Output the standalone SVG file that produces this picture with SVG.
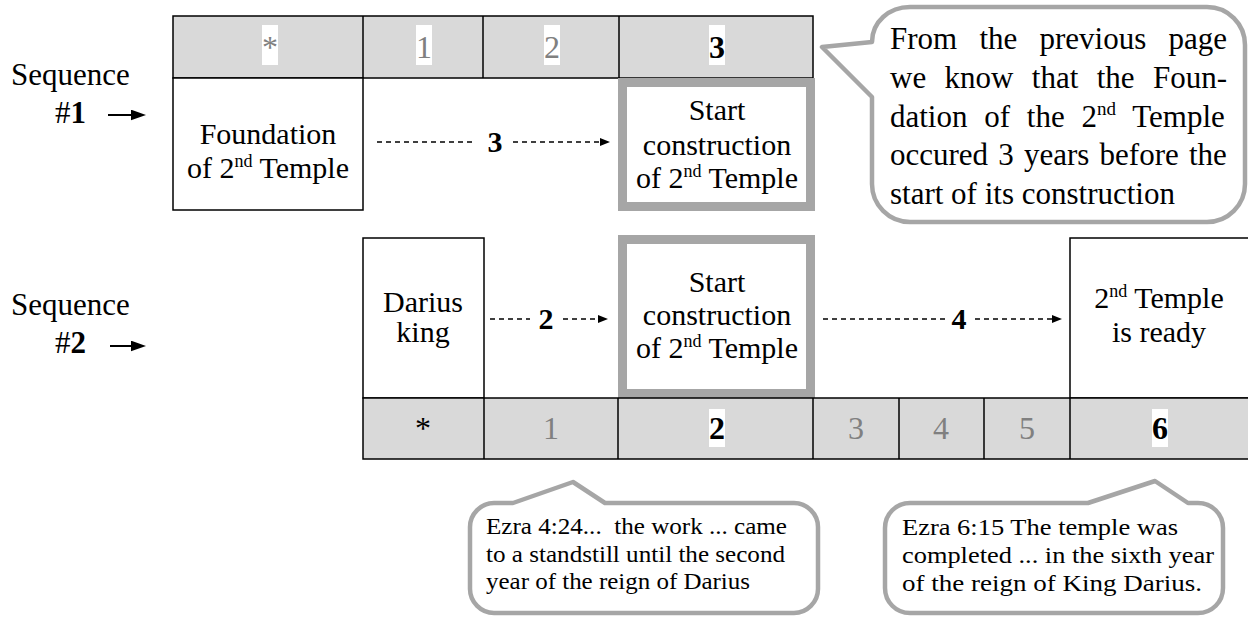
<svg xmlns="http://www.w3.org/2000/svg" width="1248" height="617" viewBox="0 0 1248 617">
<defs>
<style>
.t{font-family:"Liberation Serif","Times New Roman",serif;fill:#000}
.b30{font-size:30px}
.d32{font-size:32px}
.bold{font-weight:bold}
.gray{fill:#808080}
.box{fill:#fff;stroke:#000;stroke-width:1.5}
.hdr{fill:#d9d9d9;stroke:#000;stroke-width:1.5}
.div{stroke:#000;stroke-width:1.5}
.hl{fill:#fff;stroke:#a6a6a6;stroke-width:9}
.call{fill:#fff;stroke:#a6a6a6;stroke-width:4.5;stroke-linejoin:round}
.dash{fill:none;stroke:#000;stroke-width:1.3;stroke-dasharray:5 4}
.wbg{fill:#fff}
</style>
<marker id="ah" viewBox="0 0 10 8" refX="0" refY="4" markerWidth="10" markerHeight="8" markerUnits="userSpaceOnUse" orient="auto">
<path d="M0,0 L10,4 L0,8 Z" fill="#000"/>
</marker>
<marker id="bah" viewBox="0 0 14 10" refX="0" refY="5" markerWidth="15" markerHeight="11" markerUnits="userSpaceOnUse" orient="auto">
<path d="M0,0 L14,5 L0,10 Z" fill="#000"/>
</marker>
</defs>
<rect width="1248" height="617" fill="#fff"/>

<g id="label-seq1">
<text class="t" font-size="31" x="11" y="85">Sequence</text>
<text class="t" font-size="31" x="55" y="123">#<tspan class="bold">1</tspan></text>
</g>
<g id="label-seq2">
<text class="t" font-size="31" x="11" y="315">Sequence</text>
<text class="t" font-size="31" x="55" y="353">#<tspan class="bold">2</tspan></text>
</g>

<g id="seq1-years">
<rect class="hdr" x="173" y="16" width="640" height="62"/>
<line class="div" x1="363" y1="16" x2="363" y2="78"/>
<line class="div" x1="483" y1="16" x2="483" y2="78"/>
<line class="div" x1="619" y1="16" x2="619" y2="78"/>
<rect class="wbg" x="262" y="25" width="16" height="40"/>
<rect class="wbg" x="416" y="25" width="16" height="40"/>
<rect class="wbg" x="544" y="25" width="16" height="40"/>
<rect class="wbg" x="709" y="25" width="16" height="40"/>
<text class="t d32 gray" x="270" y="58" text-anchor="middle">*</text>
<text class="t d32 gray" x="424" y="58" text-anchor="middle">1</text>
<text class="t d32 gray" x="552" y="58" text-anchor="middle">2</text>
<text class="t d32 bold" x="717" y="58" text-anchor="middle">3</text>
</g>

<g id="foundation">
<rect class="box" x="173" y="78" width="190" height="132"/>
<text class="t b30" x="268" y="144" text-anchor="middle">Foundation</text>
<text class="t b30" x="268" y="178" text-anchor="middle">of 2<tspan font-size="18" dy="-11">nd</tspan><tspan dy="11"> Temple</tspan></text>
</g>

<g id="start1">
<rect class="hl" x="622.5" y="82.5" width="188" height="124"/>
<text class="t b30" x="717" y="120" text-anchor="middle">Start</text>
<text class="t b30" x="717" y="155" text-anchor="middle">construction</text>
<text class="t b30" x="717" y="188" text-anchor="middle">of 2<tspan font-size="18" dy="-11">nd</tspan><tspan dy="11"> Temple</tspan></text>
</g>

<g id="callout-top">
<path class="call" d="M910,7 H1207 C1228,7 1245,24 1245,45 V184 C1245,205 1228,222 1207,222 H910 C889,222 872,205 872,184 V97 L822,47 L872,42 C872,22 889,7 910,7 Z"/>
<text class="t" font-size="31" y="49"><tspan x="890">From</tspan><tspan x="979.4">the</tspan><tspan x="1039.5">previous</tspan><tspan x="1168.5">page</tspan></text>
<text class="t" font-size="31" y="88"><tspan x="890">we</tspan><tspan x="944.5">know</tspan><tspan x="1031.8">that</tspan><tspan x="1096.7">the</tspan><tspan x="1153">Foun-</tspan></text>
<text class="t" font-size="31" y="127"><tspan x="890">dation</tspan><tspan x="984.3">of</tspan><tspan x="1026.8">the</tspan><tspan x="1081.4">2</tspan><tspan font-size="19" dy="-12">nd</tspan><tspan x="1132.3" dy="12">Temple</tspan></text>
<text class="t" font-size="31" y="165"><tspan x="890">occured</tspan><tspan x="998.3">3</tspan><tspan x="1024">years</tspan><tspan x="1099.6">before</tspan><tspan x="1189">the</tspan></text>
<text class="t" font-size="31" x="890" y="204">start of its construction</text>
</g>

<g id="darius">
<rect class="box" x="363" y="238" width="121" height="160"/>
<text class="t b30" x="423" y="312" text-anchor="middle">Darius</text>
<text class="t b30" x="423" y="342" text-anchor="middle">king</text>
</g>

<g id="start2">
<rect class="hl" x="622.5" y="239.5" width="188" height="154"/>
<text class="t b30" x="717" y="292" text-anchor="middle">Start</text>
<text class="t b30" x="717" y="325" text-anchor="middle">construction</text>
<text class="t b30" x="717" y="358" text-anchor="middle">of 2<tspan font-size="18" dy="-11">nd</tspan><tspan dy="11"> Temple</tspan></text>
</g>

<g id="ready">
<rect class="box" x="1070" y="238" width="185" height="160"/>
<text class="t b30" x="1159" y="308" text-anchor="middle">2<tspan font-size="18" dy="-11">nd</tspan><tspan dy="11"> Temple</tspan></text>
<text class="t b30" x="1159" y="342" text-anchor="middle">is ready</text>
</g>

<g id="seq2-years">
<rect class="hdr" x="363" y="398" width="892" height="61"/>
<line class="div" x1="484" y1="398" x2="484" y2="459"/>
<line class="div" x1="618" y1="398" x2="618" y2="459"/>
<line class="div" x1="813" y1="398" x2="813" y2="459"/>
<line class="div" x1="899" y1="398" x2="899" y2="459"/>
<line class="div" x1="984" y1="398" x2="984" y2="459"/>
<line class="div" x1="1070" y1="398" x2="1070" y2="459"/>
<rect class="wbg" x="709" y="409" width="16" height="38"/>
<rect class="wbg" x="1152" y="409" width="16" height="38"/>
<text class="t d32" x="423" y="439" text-anchor="middle">*</text>
<text class="t d32 gray" x="551" y="439" text-anchor="middle">1</text>
<text class="t d32 bold" x="717" y="439" text-anchor="middle">2</text>
<text class="t d32 gray" x="856" y="439" text-anchor="middle">3</text>
<text class="t d32 gray" x="941" y="439" text-anchor="middle">4</text>
<text class="t d32 gray" x="1027" y="439" text-anchor="middle">5</text>
<text class="t d32 bold" x="1160" y="439" text-anchor="middle">6</text>
</g>

<g id="callout-ezra424">
<path class="call" d="M494,503 H513 L573,482 L605,503 H794 C807,503 818,514 818,527 V589 C818,602 807,613 794,613 H494 C481,613 470,602 470,589 V527 C470,514 481,503 494,503 Z"/>
<text class="t" font-size="24" x="486" y="534" textLength="301" lengthAdjust="spacingAndGlyphs" xml:space="preserve">Ezra 4:24...  the work ... came</text>
<text class="t" font-size="24" x="486" y="562" textLength="299" lengthAdjust="spacingAndGlyphs">to a standstill until the second</text>
<text class="t" font-size="24" x="486" y="589" textLength="264" lengthAdjust="spacingAndGlyphs">year of the reign of Darius</text>
</g>

<g id="callout-ezra615">
<path class="call" d="M910,503 H1088 L1155,481 L1188,503 H1198 C1212,503 1223,514 1223,528 V588 C1223,602 1212,613 1198,613 H910 C896,613 885,602 885,588 V528 C885,514 896,503 910,503 Z"/>
<text class="t" font-size="24" x="902" y="535" textLength="276" lengthAdjust="spacingAndGlyphs">Ezra 6:15 The temple was</text>
<text class="t" font-size="24" x="902" y="563" textLength="312" lengthAdjust="spacingAndGlyphs">completed ... in the sixth year</text>
<text class="t" font-size="24" x="902" y="591" textLength="300" lengthAdjust="spacingAndGlyphs">of the reign of King Darius.</text>
</g>

<g id="connectors">
<line x1="108" y1="115" x2="131" y2="115" stroke="#000" stroke-width="2" marker-end="url(#bah)"/>
<line x1="110" y1="346" x2="131" y2="346" stroke="#000" stroke-width="2" marker-end="url(#bah)"/>
<line class="dash" x1="377" y1="142" x2="472" y2="142"/>
<text class="t b30 bold" x="495" y="152" text-anchor="middle">3</text>
<line class="dash" x1="513" y1="142" x2="600" y2="142" marker-end="url(#ah)"/>
<line class="dash" x1="490" y1="319" x2="530" y2="319"/>
<text class="t b30 bold" x="546" y="329" text-anchor="middle">2</text>
<line class="dash" x1="563" y1="319" x2="598" y2="319" marker-end="url(#ah)"/>
<line class="dash" x1="823" y1="319" x2="945" y2="319"/>
<text class="t b30 bold" x="959" y="329" text-anchor="middle">4</text>
<line class="dash" x1="975" y1="319" x2="1052" y2="319" marker-end="url(#ah)"/>
</g>
</svg>
